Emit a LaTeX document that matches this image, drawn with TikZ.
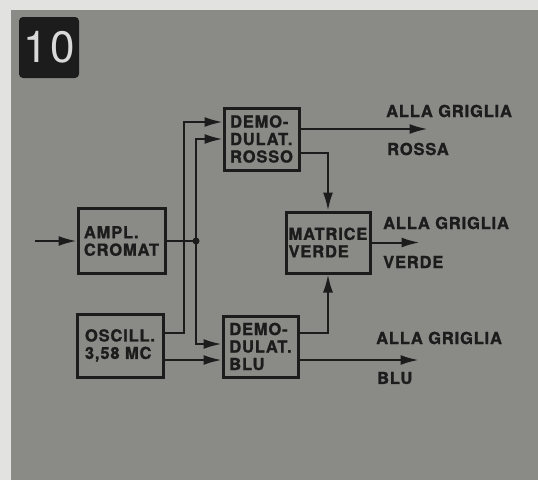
\documentclass[tikz,border=0pt]{standalone}
\usepackage{fontspec}
\setmainfont[LetterSpace=5, BoldFeatures={FakeBold=1.2}]{TeX Gyre Heros}
\usetikzlibrary{arrows.meta, positioning, calc}

\definecolor{paper}{RGB}{226,226,224}
\definecolor{bggray}{RGB}{138,138,135}
\definecolor{ink}{RGB}{28,28,28}

\begin{document}
\begin{tikzpicture}[
    x=1pt, y=-1pt,
    every node/.style={font=\fontsize{16.5}{17.5}\selectfont\bfseries, text=ink},
    box/.style={rectangle, draw=ink, line width=3pt, align=left, inner sep=0pt},
    arrow/.style={-{Latex[length=18pt, width=10pt]}, draw=ink, line width=2pt},
    wire/.style={draw=ink, line width=2pt},
    label/.style={anchor=west, inner sep=0pt},
    badge/.style={rectangle, fill=ink, rounded corners=4pt, minimum width=60pt, minimum height=61pt,
        font=\fontsize{44}{44}\selectfont, text=white!85!black}
]
\useasboundingbox (0,0) rectangle (538,480);

% ============ BACKGROUND ============
\fill[paper] (0,0) rectangle (538,480);
\fill[bggray] (11,10) rectangle (538,480);

% Figure number
\node[badge] (num) at (49,47.5) {10};

% ============ BLOCKS ============
\node[box, minimum width=87pt, minimum height=65pt] (ampl) at (121.5,241) {AMPL.\\CROMAT};
\node[box, minimum width=86pt, minimum height=63pt] (osc) at (120,345.5) {OSCILL.\\3,58 MC};
\node[box, minimum width=75pt, minimum height=62pt] (rosso) at (261.5,139) {DEMO-\\DULAT.\\ROSSO};
\node[box, minimum width=75pt, minimum height=61pt] (blu) at (260.5,346.5) {DEMO-\\DULAT.\\BLU};
\node[box, minimum width=84pt, minimum height=61pt] (matrice) at (328,242.5) {MATRICE\\VERDE};

% ============ OUTPUT LABELS ============
\node[label] (lr1) at (386,111) {ALLA GRIGLIA};
\node[label] (lr2) at (387,149) {ROSSA};
\node[label] (lv1) at (383,223) {ALLA GRIGLIA};
\node[label] (lv2) at (383,262) {VERDE};
\node[label] (lb1) at (376,338) {ALLA GRIGLIA};
\node[label] (lb2) at (377,378) {BLU};

% ============ CONNECTIONS ============
\coordinate (in) at (35,241);
\coordinate (dot) at (196,241);
\coordinate (oscup) at ($(osc.east)+(0,-12.5)$);
\coordinate (oscdn) at ($(osc.east)+(0,14.5)$);
\coordinate (rossoup) at ($(rosso.east)+(0,-10)$);
\coordinate (rossodn) at ($(rosso.east)+(0,14)$);
\coordinate (bluup) at ($(blu.east)+(0,-13.5)$);
\coordinate (bludn) at ($(blu.east)+(0,13.5)$);

% Chroma amplifier
\draw[arrow] (in) -- (ampl.west);
\draw[wire] (ampl.east) -- (dot);
\fill[ink] (dot) circle (3.5pt);
\draw[arrow] (dot) |- (rosso.west);
\draw[arrow] (dot) |- ($(blu.west)+(0,-2.5)$);

% Oscillator
\draw[arrow] (oscup) -- ++(19,0) |- ($(rosso.west)+(0,-17)$);
\draw[arrow] (oscdn) -- (oscdn -| blu.west);

% Demodulator outputs
\draw[arrow] (rossoup) -- ++(127,0);
\draw[arrow] (rossodn) -| (matrice.north);
\draw[arrow] (bluup) -| (matrice.south);
\draw[arrow] (bludn) -- ++(119,0);
\draw[arrow] (matrice.east) -- ++(48,0);

\end{tikzpicture}
\end{document}
